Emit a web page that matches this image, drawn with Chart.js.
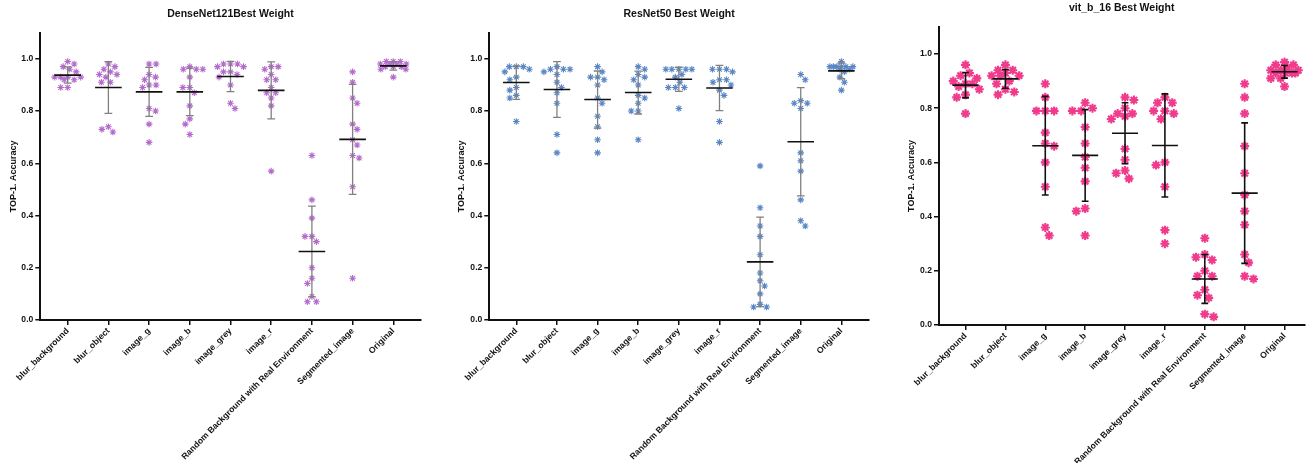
<!DOCTYPE html>
<html><head><meta charset="utf-8">
<script src="https://cdn.jsdelivr.net/npm/chart.js@4.4.1/dist/chart.umd.min.js"></script>
<style>
html,body{margin:0;padding:0;background:#fff;width:1311px;height:463px;overflow:hidden;}
.panel{position:absolute;top:0;}
canvas{display:block;}
</style></head><body>
<div class="panel" style="left:0px"><canvas id="c1" width="440" height="463"></canvas></div>
<div class="panel" style="left:448px"><canvas id="c2" width="440" height="463"></canvas></div>
<div class="panel" style="left:898px"><canvas id="c3" width="413" height="463"></canvas></div>
<script>
const categories = ['blur_background','blur_object','image_g','image_b','image_grey','image_r','Random Background with Real Environment','Segmented_image','Original'];
const yTicks = [0, 0.2, 0.4, 0.6, 0.8, 1.0];
const yAxisTitle = 'TOP-1. Accuracy';
const titles = ['DenseNet121Best Weight', 'ResNet50 Best Weight', 'vit_b_16 Best Weight'];

const densenetValues = [
  [0.99,0.98,0.97,0.96,0.95,0.93,0.93,0.93,0.93,0.92,0.92,0.89,0.89],
  [0.98,0.97,0.96,0.95,0.94,0.94,0.93,0.91,0.91,0.74,0.73,0.72],
  [0.98,0.98,0.94,0.93,0.92,0.90,0.90,0.89,0.81,0.80,0.75,0.68],
  [0.97,0.96,0.96,0.96,0.93,0.89,0.89,0.87,0.82,0.77,0.75,0.71],
  [0.98,0.98,0.98,0.97,0.97,0.95,0.95,0.94,0.93,0.90,0.83,0.81],
  [0.97,0.97,0.96,0.94,0.92,0.92,0.89,0.87,0.87,0.85,0.82,0.57],
  [0.63,0.46,0.39,0.32,0.32,0.30,0.20,0.16,0.14,0.09,0.07,0.07],
  [0.95,0.91,0.85,0.83,0.75,0.73,0.69,0.67,0.63,0.62,0.51,0.16],
  [0.99,0.99,0.99,0.98,0.98,0.98,0.98,0.97,0.97,0.97,0.96,0.96,0.93]
];
const resnetValues = [
  [0.97,0.97,0.97,0.96,0.95,0.93,0.92,0.89,0.88,0.86,0.85,0.76],
  [0.97,0.96,0.96,0.96,0.95,0.94,0.91,0.89,0.87,0.83,0.71,0.64],
  [0.97,0.95,0.93,0.93,0.92,0.90,0.85,0.83,0.78,0.74,0.69,0.64],
  [0.97,0.96,0.94,0.93,0.92,0.90,0.86,0.85,0.83,0.80,0.80,0.69],
  [0.96,0.96,0.96,0.96,0.96,0.94,0.93,0.91,0.89,0.89,0.89,0.81],
  [0.96,0.96,0.96,0.95,0.92,0.92,0.91,0.90,0.88,0.86,0.76,0.68],
  [0.59,0.43,0.36,0.32,0.25,0.18,0.15,0.13,0.10,0.06,0.05,0.05],
  [0.94,0.92,0.84,0.83,0.83,0.81,0.64,0.61,0.57,0.46,0.38,0.36],
  [0.99,0.97,0.97,0.97,0.97,0.97,0.97,0.96,0.96,0.95,0.93,0.91,0.88]
];
const vitValues = [
  [0.96,0.93,0.92,0.91,0.90,0.89,0.89,0.88,0.87,0.85,0.84,0.78],
  [0.96,0.94,0.94,0.93,0.92,0.92,0.92,0.90,0.89,0.87,0.86,0.85],
  [0.89,0.84,0.79,0.79,0.79,0.71,0.67,0.66,0.60,0.51,0.36,0.33],
  [0.82,0.80,0.79,0.79,0.73,0.67,0.62,0.58,0.53,0.43,0.42,0.33],
  [0.84,0.83,0.80,0.78,0.78,0.77,0.76,0.65,0.61,0.57,0.56,0.54],
  [0.84,0.82,0.82,0.79,0.79,0.78,0.76,0.60,0.59,0.51,0.35,0.30],
  [0.32,0.26,0.25,0.24,0.20,0.18,0.18,0.13,0.11,0.10,0.04,0.03],
  [0.89,0.84,0.78,0.66,0.56,0.48,0.42,0.37,0.26,0.23,0.18,0.17],
  [0.97,0.96,0.96,0.95,0.94,0.94,0.94,0.93,0.93,0.93,0.93,0.91,0.91,0.88]
];

const FONT = "'Liberation Sans', Arial, Helvetica, sans-serif";

// deterministic beeswarm spread (limited width) of points sharing similar values
function swarm(values, pxX, pxY, D, maxOff) {
  const idx = values.map((v, i) => i).sort((a, b) => values[b] - values[a]);
  const placed = [];
  const off = new Array(values.length).fill(0);
  const cands = [0];
  for (let s = 1; s <= maxOff * 2; s++) { cands.push(s / 2, -s / 2); }
  idx.forEach((i, n) => {
    const y = values[i] * pxY;
    const near = placed.filter(p => Math.abs(p.y - y) < D);
    const sign = n % 2 ? 1 : -1;
    let best = null, bestScore = -1;
    for (const c0 of cands) {
      const c = c0 * sign;
      const dmin = near.reduce((m, p) => Math.min(m, Math.hypot(p.x - c, p.y - y)), Infinity);
      if (dmin >= D) { best = c; break; }
      if (dmin > bestScore + 0.3) { bestScore = dmin; best = c; }
    }
    placed.push({ x: best, y });
    off[i] = best / pxX;
  });
  return off;
}

function makeChart(id, title, values, cfg) {
  const pts = [], err = [], mean = [];
  values.forEach((vals, i) => {
    const off = swarm(vals, cfg.pxX, cfg.pxY, cfg.D, cfg.maxOff);
    vals.forEach((v, k) => pts.push({ x: i + off[k], y: v }));
    const m = vals.reduce((a, b) => a + b, 0) / vals.length;
    const sd = Math.sqrt(vals.reduce((a, b) => a + (b - m) ** 2, 0) / (vals.length - 1));
    err.push({x:i,y:m-sd},{x:i,y:m+sd},{x:i,y:null},
             {x:i-cfg.cap,y:m+sd},{x:i+cfg.cap,y:m+sd},{x:i,y:null},
             {x:i-cfg.cap,y:m-sd},{x:i+cfg.cap,y:m-sd},{x:i,y:null});
    mean.push({x:i-0.327,y:m},{x:i+0.327,y:m},{x:i,y:null});
  });
  const tickFont = { family: FONT, size: 8.6, weight: 'bold' };
  new Chart(document.getElementById(id), {
    type: 'scatter',
    data: { datasets: [
      { data: mean, showLine: true, borderColor: '#111', borderWidth: 1.6, pointRadius: 0, spanGaps: false, order: 1 },
      { data: err, showLine: true, borderColor: cfg.errColor, borderWidth: cfg.errWidth, pointRadius: 0, spanGaps: false, order: 2 },
      { data: pts, showLine: false, pointStyle: 'star', pointRadius: cfg.r, pointBorderColor: cfg.color,
        pointBackgroundColor: cfg.color, pointBorderWidth: cfg.pw, order: 3 }
    ] },
    options: {
      responsive: false, animation: false, devicePixelRatio: 1,
      layout: { padding: { left: 0, right: cfg.padRight, top: 0, bottom: 0 } },
      plugins: {
        legend: { display: false }, tooltip: { enabled: false },
        title: { display: true, text: title, fullSize: false, color: '#111',
          font: { family: FONT, size: 10.5, weight: 'bold' },
          padding: { top: cfg.titleTop, bottom: cfg.titleBottom } }
      },
      scales: {
        x: {
          type: 'linear', min: cfg.xMin, max: cfg.xMax,
          afterBuildTicks: s => { s.ticks = categories.map((_, i) => ({ value: i })); },
          afterFit: s => { s.height = cfg.xAxisH; },
          ticks: { autoSkip: false, minRotation: 45, maxRotation: 45, padding: 1, color: '#111', font: tickFont,
            callback: v => categories[Math.round(v)] },
          grid: { drawOnChartArea: false, drawTicks: true, tickLength: 5, color: '#111', lineWidth: 1.5 },
          border: { display: true, color: '#111', width: 2 }
        },
        y: {
          type: 'linear', min: 0, max: 1.1,
          afterBuildTicks: s => { s.ticks = yTicks.map(v => ({ value: v })); },
          afterFit: s => { s.width = cfg.yAxisW; },
          ticks: { padding: 2, color: '#111', font: tickFont, callback: v => Number(v).toFixed(1) },
          title: { display: true, text: yAxisTitle, color: '#111', font: { family: FONT, size: 9, weight: 'bold' },
            padding: { top: cfg.yTitlePad, bottom: 0 } },
          grid: { drawOnChartArea: false, drawTicks: true, tickLength: 5, color: '#111', lineWidth: 1.5 },
          border: { display: true, color: '#111', width: 2 }
        }
      }
    }
  });
}

makeChart('c1', titles[0], densenetValues, {
  pxX: 40.7, pxY: 261.3, D: 6.8, maxOff: 13, cap: 0.095, color: '#b46ccc', r: 3.3, pw: 1.1,
  errColor: '#808080', errWidth: 1.3, padRight: 19.3, titleTop: 8, titleBottom: 12.1,
  xMin: -0.673, xMax: 8.673, xAxisH: 143, yAxisW: 40.3, yTitlePad: 7.9
});
makeChart('c2', titles[1], resnetValues, {
  pxX: 40.6, pxY: 261.3, D: 6.8, maxOff: 13, cap: 0.095, color: '#5a87c4', r: 3.3, pw: 1.1,
  errColor: '#808080', errWidth: 1.3, padRight: 19, titleTop: 8, titleBottom: 12.1,
  xMin: -0.665, xMax: 8.68, xAxisH: 143, yAxisW: 41.3, yTitlePad: 8.3
});
makeChart('c3', titles[2], vitValues, {
  pxX: 40.6, pxY: 271, D: 9, maxOff: 14, cap: 0.085, color: '#f03a8c', r: 4.5, pw: 2.1,
  errColor: '#111', errWidth: 1.6, padRight: 0, titleTop: 2, titleBottom: 12.3,
  xMin: -0.665, xMax: 8.498, xAxisH: 138, yAxisW: 41, yTitlePad: 8.3
});
</script>
</body></html>
